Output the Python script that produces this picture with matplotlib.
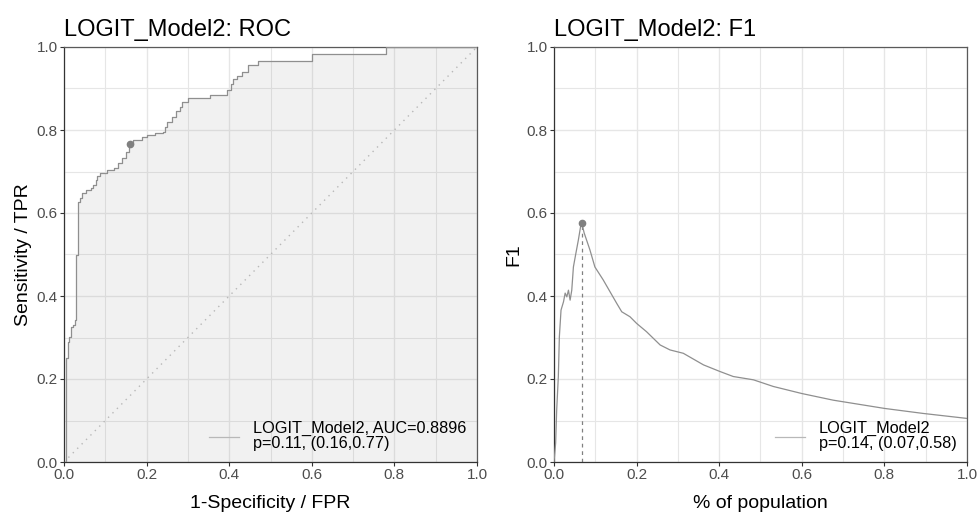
import matplotlib
matplotlib.use("Agg")
import matplotlib.pyplot as plt
from matplotlib.lines import Line2D
import numpy as np

plt.rcParams["font.family"] = ["Liberation Sans", "DejaVu Sans"]

# ROC staircase: start of each flat segment (fpr, tpr)
roc_fpr = [0.000, 0.004, 0.009, 0.012, 0.017, 0.022, 0.027, 0.030, 0.033, 0.039,
           0.044, 0.053, 0.066, 0.070, 0.077, 0.081, 0.088, 0.103, 0.121, 0.130,
           0.140, 0.150, 0.158, 0.166, 0.188, 0.200, 0.220, 0.240, 0.245, 0.250,
           0.262, 0.272, 0.280, 0.285, 0.300, 0.354, 0.394, 0.404, 0.410, 0.420,
           0.430, 0.445, 0.470, 0.600, 0.780, 1.000]
roc_tpr = [0.000, 0.250, 0.290, 0.302, 0.326, 0.330, 0.342, 0.500, 0.627, 0.635,
           0.647, 0.655, 0.660, 0.667, 0.680, 0.690, 0.697, 0.703, 0.708, 0.720,
           0.732, 0.747, 0.766, 0.776, 0.782, 0.788, 0.792, 0.796, 0.808, 0.820,
           0.832, 0.845, 0.856, 0.868, 0.876, 0.884, 0.896, 0.910, 0.922, 0.930,
           0.940, 0.957, 0.967, 0.982, 1.000, 1.000]
roc_best = (0.16, 0.766)
roc_label = "LOGIT_Model2, AUC=0.8896\np=0.11, (0.16,0.77)"

# F1 vs share of population
f1_pop = [0.000, 0.004, 0.0065, 0.0105, 0.013, 0.017, 0.023, 0.027, 0.031, 0.035,
          0.039, 0.043, 0.047, 0.053, 0.059, 0.065, 0.067, 0.073, 0.087, 0.099,
          0.119, 0.152, 0.164, 0.184, 0.200, 0.224, 0.257, 0.281, 0.313, 0.362,
          0.402, 0.434, 0.483, 0.531, 0.600, 0.676, 0.801, 0.894, 1.000]
f1_val = [0.000, 0.046, 0.125, 0.206, 0.302, 0.366, 0.386, 0.407, 0.398, 0.414,
          0.390, 0.414, 0.470, 0.503, 0.535, 0.571, 0.577, 0.552, 0.511, 0.470,
          0.439, 0.382, 0.362, 0.350, 0.334, 0.314, 0.282, 0.270, 0.262, 0.234,
          0.218, 0.206, 0.198, 0.182, 0.165, 0.149, 0.129, 0.117, 0.105]
f1_best = (0.067, 0.577)
f1_label = "LOGIT_Model2\np=0.14, (0.07,0.58)"

LINE = "#8f8f8f"
DARK = "#4d4d4d"
GRID = "#e6e6e6"

fig = plt.figure(figsize=(9.79, 5.12), dpi=100)
ax1 = fig.add_axes([64 / 979, 50 / 512, 413 / 979, 415 / 512])
ax2 = fig.add_axes([554 / 979, 50 / 512, 413 / 979, 415 / 512])


def style(ax, title, xlabel, ylabel):
    ax.set_xlim(0, 1)
    ax.set_ylim(0, 1)
    ticks = np.arange(0, 1.01, 0.2)
    ax.set_xticks(ticks)
    ax.set_yticks(ticks)
    ax.set_xticks(np.arange(0.1, 1.0, 0.2), minor=True)
    ax.set_yticks(np.arange(0.1, 1.0, 0.2), minor=True)
    ax.set_xticklabels([f"{v:.1f}" for v in ticks])
    ax.set_yticklabels([f"{v:.1f}" for v in ticks])
    ax.grid(which="major", color=GRID, lw=1.0, zorder=0)
    ax.grid(which="minor", color=GRID, lw=0.8, zorder=0)
    ax.set_axisbelow(True)
    ax.tick_params(which="major", direction="out", length=3, width=0.8,
                   color="#333333", labelsize=11, labelcolor=DARK, pad=1.5)
    ax.tick_params(which="minor", length=0)
    for s in ax.spines.values():
        s.set_color("#5a5a5a")
        s.set_linewidth(0.9)
    ax.spines["left"].set_color("#333333")
    ax.spines["bottom"].set_color("#333333")
    ax.set_title(title, loc="left", fontsize=17, pad=8)
    ax.set_xlabel(xlabel, fontsize=14, labelpad=9)
    ax.set_ylabel(ylabel, fontsize=14, labelpad=3)


def add_legend(ax, label):
    h = Line2D([], [], color="#b8b8b8", lw=0.9)
    leg = ax.legend([h], [label], loc="lower right", frameon=False,
                    fontsize=11.7, handlelength=1.85, handletextpad=0.85,
                    borderaxespad=0.2, borderpad=0.45)
    for t in leg.get_texts():
        t.set_linespacing(1.0)


# ROC panel
style(ax1, "LOGIT_Model2: ROC", "1-Specificity / FPR", "Sensitivity / TPR")
ax1.fill_between(roc_fpr, roc_tpr, 0, step="post", color="#7f7f7f",
                 alpha=0.1, lw=0, zorder=1)
ax1.plot([0, 1], [0, 1], ls=(0, (1, 3.5)), color="#b8b8b8", lw=1.0, zorder=2)
ax1.plot(roc_fpr, roc_tpr, drawstyle="steps-post", color=LINE, lw=0.9, zorder=3)
ax1.plot(*roc_best, "o", color="#808080", ms=4.5, zorder=4)
add_legend(ax1, roc_label)

# F1 panel
style(ax2, "LOGIT_Model2: F1", "% of population", "F1")
ax2.vlines(f1_best[0], 0, f1_best[1], colors="#808080", linestyles=(0, (3, 3)),
           lw=0.9, zorder=2)
ax2.plot(f1_pop, f1_val, color=LINE, lw=0.9, zorder=3)
ax2.plot(*f1_best, "o", color="#808080", ms=4.5, zorder=4)
add_legend(ax2, f1_label)

fig.savefig("out.png", dpi=100, facecolor="white")
